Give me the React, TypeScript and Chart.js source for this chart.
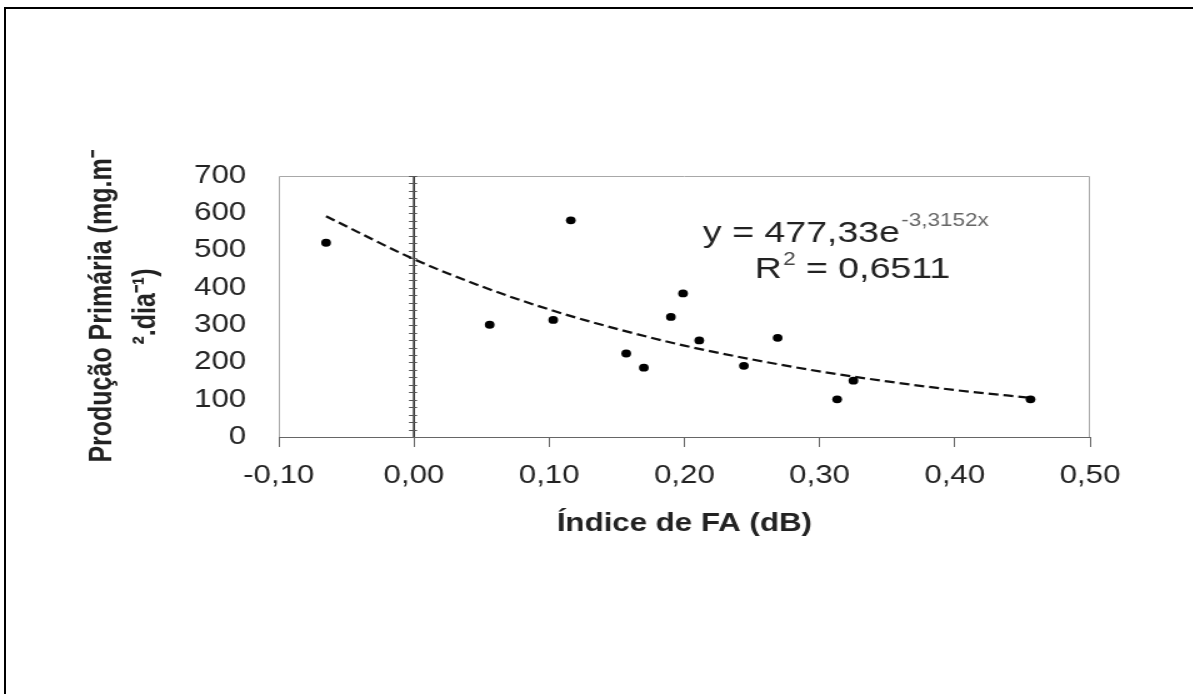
import React, { useEffect, useRef } from "react";
import { Chart, registerables } from "chart.js";

Chart.register(...registerables);

// ---- data ----
const indiceFA = [-0.065, 0.056, 0.103, 0.116, 0.157, 0.170, 0.190, 0.199, 0.211, 0.244, 0.269, 0.313, 0.325, 0.456];
const producao = [521, 301, 314, 581, 224, 186, 322, 385, 259, 191, 266, 101, 151, 101];

// exponential trendline as drawn
const trendX = [-0.065, 0.0, 0.05, 0.10, 0.15, 0.20, 0.25, 0.30, 0.35, 0.40, 0.456];
const trendY = [592, 477, 404, 342, 290, 245, 208, 176, 149, 126, 105];

const xTitle = "Índice de FA (dB)";
const yTitleLines = ["Produção Primária (mg.m⁻", "².dia⁻¹)"];
const eqMain = "y = 477,33e";
const eqExp = "-3,3152x";
const r2Base = "R";
const r2Sup = "2";
const r2Rest = " = 0,6511";

const X_MIN = -0.1, X_MAX = 0.5, X_STEP = 0.1;
const Y_MIN = 0, Y_MAX = 700, Y_STEP = 100, Y_MINOR = 20;

// ---- layout ----
const STRETCH = 1.25;
const W = 954, H = 694;
const FAMILY = "'Liberation Sans', Arial, Helvetica, sans-serif";
const EQ_POS = { x: 0.2137, y: 523 };
const R2_POS = { x: 0.252, y: 426 };

const framePlugin = {
  id: "frame",
  beforeDatasetsDraw(chart: any) {
    const { ctx, chartArea: a, scales } = chart;
    ctx.save();
    ctx.strokeStyle = "#a8a8a8";
    ctx.lineWidth = 1;
    ctx.beginPath();
    ctx.moveTo(a.left + 0.5, a.bottom);
    ctx.lineTo(a.left + 0.5, a.top + 0.5);
    ctx.lineTo(a.right - 0.5, a.top + 0.5);
    ctx.lineTo(a.right - 0.5, a.bottom);
    ctx.stroke();
    // vertical axis crossing at x = 0
    const x0 = scales.x.getPixelForValue(0);
    ctx.strokeStyle = "#222";
    ctx.lineWidth = 1.5;
    ctx.beginPath();
    ctx.moveTo(x0, a.top);
    ctx.lineTo(x0, a.bottom);
    ctx.stroke();
    ctx.strokeStyle = "#555";
    ctx.lineWidth = 1;
    for (let v = Y_MIN + Y_MINOR; v <= Y_MAX; v += Y_MINOR) {
      const py = Math.round(scales.y.getPixelForValue(v)) + 0.5;
      ctx.beginPath();
      ctx.moveTo(x0 - 4, py);
      ctx.lineTo(x0 + 2.5, py);
      ctx.stroke();
    }
    ctx.restore();
  },
};

const equationPlugin = {
  id: "equation",
  afterDatasetsDraw(chart: any) {
    const { ctx, scales } = chart;
    ctx.save();
    ctx.textAlign = "left";
    ctx.textBaseline = "alphabetic";
    let px = scales.x.getPixelForValue(EQ_POS.x);
    let py = scales.y.getPixelForValue(EQ_POS.y);
    ctx.font = `30px ${FAMILY}`;
    ctx.fillStyle = "#222";
    ctx.fillText(eqMain, px, py);
    const w = ctx.measureText(eqMain).width;
    ctx.font = `18px ${FAMILY}`;
    ctx.fillStyle = "#666";
    ctx.fillText(eqExp, px + w + 1, py - 16);

    px = scales.x.getPixelForValue(R2_POS.x);
    py = scales.y.getPixelForValue(R2_POS.y);
    ctx.font = `30px ${FAMILY}`;
    ctx.fillStyle = "#222";
    ctx.fillText(r2Base, px, py);
    let w2 = ctx.measureText(r2Base).width;
    ctx.font = `18px ${FAMILY}`;
    ctx.fillStyle = "#444";
    ctx.fillText(r2Sup, px + w2 + 1, py - 13);
    w2 += ctx.measureText(r2Sup).width + 1;
    ctx.font = `30px ${FAMILY}`;
    ctx.fillStyle = "#222";
    ctx.fillText(r2Rest, px + w2, py);
    ctx.restore();
  },
};

export default function App() {
  const canvasRef = useRef<HTMLCanvasElement | null>(null);

  useEffect(() => {
    const canvas = canvasRef.current;
    if (!canvas) return;
    const tickFont = { size: 25, family: FAMILY };
    const chart = new Chart(canvas, {
      type: "scatter",
      data: {
        datasets: [
          {
            label: "Tendência",
            data: trendX.map((x, i) => ({ x, y: trendY[i] })),
            showLine: true,
            borderColor: "#111",
            borderWidth: 2.2,
            borderDash: [8, 4],
            pointRadius: 0,
            cubicInterpolationMode: "monotone",
            order: 2,
          },
          {
            label: "Produção",
            data: indiceFA.map((x, i) => ({ x, y: producao[i] })),
            pointRadius: 3.9,
            pointBackgroundColor: "#000",
            pointBorderWidth: 0,
            showLine: false,
            order: 1,
          },
        ],
      },
      options: {
        animation: false,
        responsive: false,
        devicePixelRatio: 1,
        layout: { padding: { left: 0, top: 176, right: 82, bottom: 0 } },
        plugins: { legend: { display: false }, tooltip: { enabled: false } },
        scales: {
          x: {
            type: "linear",
            min: X_MIN,
            max: X_MAX,
            ticks: {
              stepSize: X_STEP,
              color: "#222",
              font: tickFont,
              padding: 14,
              callback: (v: any) => (Math.round(Number(v) * 100) / 100 + 0).toFixed(2).replace(".", ","),
            },
            grid: { display: true, drawOnChartArea: false, drawTicks: true, tickLength: 10, color: "#666", lineWidth: 1 },
            border: { display: true, color: "#666", width: 1 },
            title: {
              display: true,
              text: xTitle,
              color: "#222",
              font: { size: 25, weight: "bold", family: FAMILY },
              padding: { top: 0, bottom: 155 },
            },
            afterFit: (s: any) => {
              s.height = 257;
            },
          },
          y: {
            type: "linear",
            min: Y_MIN,
            max: Y_MAX,
            ticks: { stepSize: Y_STEP, color: "#222", font: tickFont, padding: 26 },
            grid: { display: false, drawTicks: false },
            border: { display: false },
            title: {
              display: true,
              text: yTitleLines,
              color: "#222",
              font: { size: 25, weight: "bold", family: FAMILY, lineHeight: 1.4 },
              padding: { top: 65, bottom: 0 },
            },
            afterFit: (s: any) => {
              s.width = 223;
            },
          },
        },
      } as any,
      plugins: [framePlugin, equationPlugin],
    });
    return () => chart.destroy();
  }, []);

  return (
    <div style={{ position: "absolute", left: 0, top: 0, width: 1193, height: 694, overflow: "hidden", background: "#fff" }}>
      <div style={{ position: "absolute", left: 0, top: 0, width: W, height: H, transform: `scaleX(${STRETCH})`, transformOrigin: "0 0" }}>
        <canvas ref={canvasRef} width={W} height={H} style={{ width: W, height: H, display: "block" }} />
      </div>
      <div
        style={{
          position: "absolute",
          left: 4,
          top: 7,
          width: 1189,
          height: 687,
          borderTop: "2px solid #000",
          borderLeft: "2px solid #000",
          boxSizing: "border-box",
          pointerEvents: "none",
        }}
      />
    </div>
  );
}
